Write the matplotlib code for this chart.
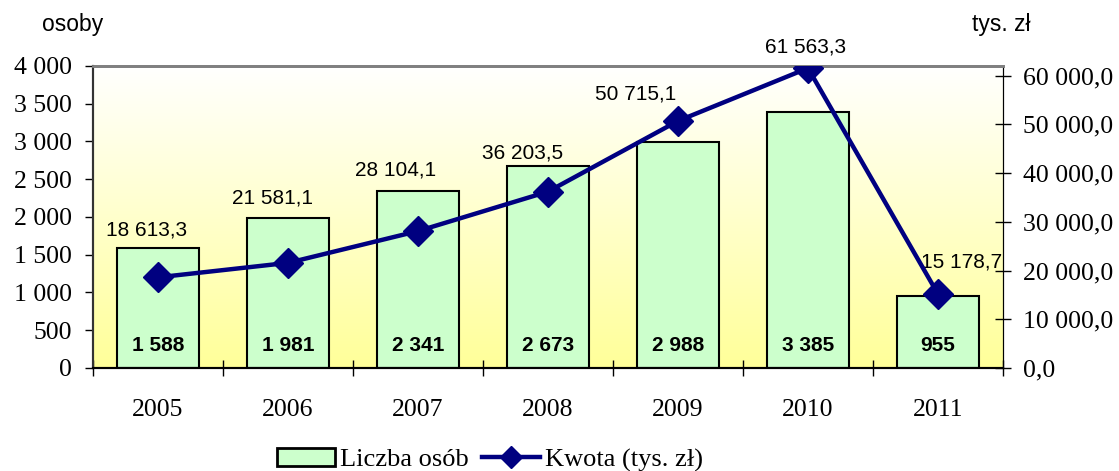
import matplotlib.pyplot as plt
import numpy as np
from matplotlib.colors import LinearSegmentedColormap

# dane
years = ["2005", "2006", "2007", "2008", "2009", "2010", "2011"]
persons = [1588, 1981, 2341, 2673, 2988, 3385, 955]
persons_lbl = ["1 588", "1 981", "2 341", "2 673", "2 988", "3 385", "955"]
amount = [18613.3, 21581.1, 28104.1, 36203.5, 50715.1, 61563.3, 15178.7]
amount_lbl = ["18 613,3", "21 581,1", "28 104,1", "36 203,5", "50 715,1", "61 563,3", "15 178,7"]
left_ticks = [0, 500, 1000, 1500, 2000, 2500, 3000, 3500, 4000]
left_tick_lbl = ["0", "500", "1 000", "1 500", "2 000", "2 500", "3 000", "3 500", "4 000"]
right_ticks = [0, 10000, 20000, 30000, 40000, 50000, 60000]
right_tick_lbl = ["0,0", "10 000,0", "20 000,0", "30 000,0", "40 000,0", "50 000,0", "60 000,0"]

# przesunięcia etykiet kwot (piksele)
amount_off = [(-11, 47), (-15, 65), (-22, 61), (-25, 39), (-42, 27), (-2, 21), (24, 32)]

SERIF = "Liberation Serif"
SANS = "Liberation Sans"
NAVY = "#000080"
BAR = "#CCFFCC"

fig = plt.figure(figsize=(11.19, 4.71), dpi=100)
ax = fig.add_axes([0.0831, 0.2187, 0.8132, 0.6412])
ax2 = ax.twinx()

x = np.arange(len(years))

# tło z gradientem
grad = np.linspace(0, 1, 256).reshape(-1, 1)
cmap = LinearSegmentedColormap.from_list("bg", ["#FFFF99", "#FFFFFF"])
ax.imshow(grad, aspect="auto", cmap=cmap, origin="lower",
          extent=(-0.5, 6.5, 0, 4000), zorder=0)

ax.bar(x, persons, width=0.63, color=BAR, edgecolor="black", linewidth=1.5, zorder=2)
for xi, lbl in zip(x, persons_lbl):
    ax.text(xi, 300, lbl, ha="center", va="center", fontsize=15,
            fontweight="bold", family=SANS, zorder=3)

ax.set_xlim(-0.5, 6.5)
ax.set_ylim(0, 4000)
ax.set_yticks(left_ticks)
ax.set_yticklabels(left_tick_lbl, family=SERIF, fontsize=18.5)
ax.set_xticks(x)
ax.set_xticklabels(years, family=SERIF, fontsize=18.5)
ax.set_xticks(np.arange(-0.5, 7, 1), minor=True)
ax.tick_params(axis="x", which="major", length=0, pad=22)
ax.tick_params(axis="x", which="minor", direction="inout", length=11.5, width=1)
ax.tick_params(axis="y", length=6, width=1, pad=9)

ax2.plot(x, amount, color=NAVY, lw=3.2, marker="D", markersize=15, zorder=4)
ax2.set_ylim(0, 62000)
ax2.set_yticks(right_ticks)
ax2.set_yticklabels(right_tick_lbl, family=SERIF, fontsize=18.5)
ax2.tick_params(axis="y", direction="inout", length=11.5, width=1, pad=9)
for xi, v, lbl, (dx, dy) in zip(x, amount, amount_lbl, amount_off):
    ax2.annotate(lbl, (xi, v), xytext=(dx, dy), textcoords="offset pixels",
                 ha="center", va="center", fontsize=15, family=SANS,
                 annotation_clip=False)

for a in (ax, ax2):
    a.spines["top"].set_color("#808080")
    a.spines["top"].set_linewidth(2)
    a.spines["left"].set_color("#333333")
    a.spines["left"].set_linewidth(1.5)
    a.spines["right"].set_color("black")
    a.spines["bottom"].set_color("black")
    a.spines["bottom"].set_linewidth(1.5)

fig.text(73 / 1119, 1 - 25 / 471, "osoby", ha="center", va="center",
         fontsize=16.5, family=SANS)
fig.text(1001 / 1119, 1 - 25 / 471, "tys. zł", ha="center", va="center",
         fontsize=16.5, family=SANS)

bar_h = plt.Rectangle((0, 0), 1, 1, facecolor=BAR, edgecolor="black", linewidth=2)
line_h = plt.Line2D([], [], color=NAVY, lw=3.2, marker="D", markersize=11)
fig.legend([bar_h, line_h], ["Liczba osób", "Kwota (tys. zł)"],
           loc="center", bbox_to_anchor=(490 / 1119, 1 - 460 / 471), ncol=2,
           frameon=False, prop={"family": SERIF, "size": 19},
           handlelength=2.2, handleheight=0.65, handletextpad=0.2,
           columnspacing=0.5, borderpad=0)

fig.savefig("out.png", dpi=100)
